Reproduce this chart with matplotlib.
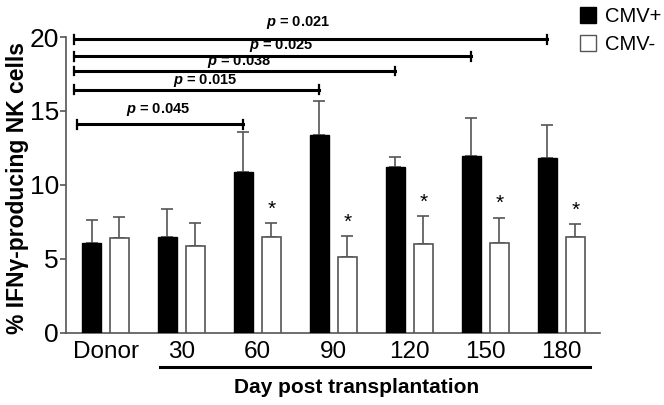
import matplotlib.pyplot as plt
import matplotlib.patches as mpatches
import numpy as np

groups = ['Donor', '30', '60', '90', '120', '150', '180']
cmv_pos = [6.1, 6.5, 10.9, 13.4, 11.2, 11.95, 11.85]
cmv_pos_err = [1.5, 1.9, 2.65, 2.3, 0.67, 2.6, 2.2]
cmv_neg = [6.4, 5.85, 6.5, 5.15, 6.0, 6.1, 6.45]
cmv_neg_err = [1.45, 1.6, 0.9, 1.4, 1.9, 1.7, 0.9]
star_groups = [2, 3, 4, 5, 6]

# brackets: (end group, line y, label, label x, label y)
brackets = [
    (6, 19.85, 'p = 0.021', 2.53, 21.0),
    (5, 18.7, 'p = 0.025', 2.31, 19.45),
    (4, 17.7, 'p = 0.038', 1.76, 18.35),
    (3, 16.45, 'p = 0.015', 1.31, 17.05),
    (2, 14.1, 'p = 0.045', 0.69, 15.1),
]

plt.rcParams['font.family'] = ['Liberation Sans', 'DejaVu Sans']
plt.rcParams['mathtext.fontset'] = 'custom'
plt.rcParams['mathtext.bfit'] = 'Liberation Sans:bold:italic'

fig = plt.figure(figsize=(6.64, 4.05), dpi=100)
ax = fig.add_axes([0.0994, 0.178, 0.8042, 0.7306])

x = np.arange(len(groups))
w = 0.25
off = 0.184
ax.bar(x - off, cmv_pos, w, color='black', edgecolor='black', linewidth=1, zorder=3)
ax.bar(x + off, cmv_neg, w, color='white', edgecolor='#555555', linewidth=1.2, zorder=3)
ax.errorbar(x - off, cmv_pos, yerr=[np.zeros(len(x)), cmv_pos_err], fmt='none',
            ecolor='#555555', elinewidth=1.2, capsize=4, capthick=1.2, zorder=2)
ax.errorbar(x + off, cmv_neg, yerr=[np.zeros(len(x)), cmv_neg_err], fmt='none',
            ecolor='#555555', elinewidth=1.2, capsize=4, capthick=1.2, zorder=2)

for g in star_groups:
    ax.text(g + off, cmv_neg[g] + cmv_neg_err[g] + 0.3, '*', ha='center', va='bottom',
            fontsize=15)

for end, ly, label, lx, ty in brackets:
    start = -0.375 if end == 2 else -0.41
    ax.plot([start, end - off], [ly, ly], color='black', lw=2.2, clip_on=False)
    for xx in (start, end - off):
        ax.plot([xx, xx], [ly - 0.3, ly + 0.3], color='black', lw=1.6, clip_on=False)
    ax.text(lx, ty, r'$\bfit{p}$' + label[1:], ha='center', va='center', fontsize=10.5,
            fontweight='bold', clip_on=False)

ax.set_xlim(-0.52, 6.51)
ax.set_ylim(0, 20)
ax.set_yticks([0, 5, 10, 15, 20])
ax.tick_params(axis='y', labelsize=19, length=4, width=1.2, color='#555555', pad=1)
ax.set_xticks(x)
ax.set_xticklabels(groups)
ax.tick_params(axis='x', labelsize=17.5, length=0, pad=6)
for s in ['top', 'right']:
    ax.spines[s].set_visible(False)
for s in ['left', 'bottom']:
    ax.spines[s].set_color('#555555')
    ax.spines[s].set_linewidth(1.2)

ax.set_ylabel('% IFN\u03b3-producing NK cells', fontsize=16.5, fontweight='bold')
ax.yaxis.set_label_coords(-0.07, 0.49)

# underline for days post transplantation
ax.plot([0.72, 6.38], [-2.3, -2.3], color='black', lw=2.2, clip_on=False)
ax.text(3.3, -3.7, 'Day post transplantation', ha='center', va='center', fontsize=15,
        fontweight='bold', clip_on=False)

handles = [mpatches.Patch(facecolor='black', edgecolor='black'),
           mpatches.Patch(facecolor='white', edgecolor='#555555')]
fig.legend(handles, ['CMV+', 'CMV-'], loc='upper left',
           bbox_to_anchor=(580 / 664, 1 - 7 / 405), borderpad=0, borderaxespad=0,
           frameon=False, fontsize=14.5, handlelength=0.8, handleheight=0.8,
           handletextpad=0.45, labelspacing=0.45)

fig.savefig('out.png', dpi=100)
